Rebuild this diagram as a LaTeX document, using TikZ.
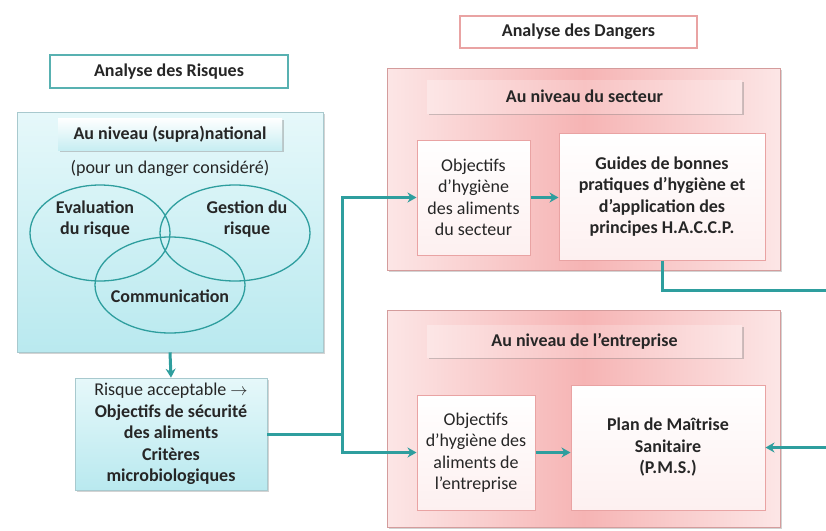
\documentclass[tikz,border=0pt]{standalone}
\usepackage{fontspec}
\setmainfont{Carlito}
\usetikzlibrary{shapes.geometric,shadows,arrows.meta}

\definecolor{sarcelle}{HTML}{2E9E9E}
\definecolor{cyanclair}{HTML}{E6F8FA}
\definecolor{cyanfonce}{HTML}{B9E9EF}
\definecolor{roseclair}{HTML}{FCE6E6}
\definecolor{rosefonce}{HTML}{F6B4B4}
\definecolor{bordrose}{HTML}{E9A3A3}

\newcommand\taille{\fontsize{18}{21.5}\selectfont}

\tikzset{
  titre/.style={draw=#1, line width=1.4pt, fill=white, font=\taille\bfseries},
  grandR/.style={draw=cyanfonce!70!gray, line width=0.6pt, top color=cyanclair, bottom color=cyanfonce,
    drop shadow={shadow xshift=1.5pt, shadow yshift=-2pt, opacity=.35}},
  grandD/.style={draw=bordrose!80!gray, line width=0.6pt, left color=roseclair, right color=roseclair, middle color=rosefonce,
    drop shadow={shadow xshift=1.5pt, shadow yshift=-2pt, opacity=.35}},
  niveauR/.style={top color=white, bottom color=cyanfonce!80, font=\taille\bfseries,
    drop shadow={shadow xshift=1.5pt, shadow yshift=-2pt, opacity=.4}},
  niveauD/.style={left color=roseclair, right color=roseclair, middle color=rosefonce!80, font=\taille\bfseries,
    drop shadow={shadow xshift=1.5pt, shadow yshift=-2pt, opacity=.4}},
  cercle/.style={ellipse, draw=sarcelle, line width=1.3pt},
  gras/.style={font=\taille\bfseries, align=center},
  objbox/.style={draw=bordrose, line width=1pt, top color=white, bottom color=roseclair!60, align=center},
  fleche/.style={->, draw=sarcelle, line width=3pt}
}

\begin{document}
\begin{tikzpicture}[x=1pt, y=-1pt, >={Stealth[length=9pt,width=10pt]}, font=\taille, text=black!85]
    \useasboundingbox (0,0) rectangle (826,530);
    % analyse des risques
    \node[titre=sarcelle!80, minimum width=238, minimum height=33] (titreR) at (169,71.5) {Analyse des Risques};
    \node[grandR, minimum width=306, minimum height=240] (boiteR) at (170,232) {};
    \node[niveauR, minimum width=224, minimum height=32] (supra) at (170,134) {Au niveau (supra)national};
    \node (pour) at (170,168) {(pour un danger considéré)};
    \node[cercle, minimum width=140, minimum height=96] (eval) at (100,233) {};
    \node[cercle, minimum width=150, minimum height=96] (gest) at (235,233) {};
    \node[cercle, minimum width=150, minimum height=96] (comm) at (170,285) {};
    \node[gras] (txteval) at (95,219) {Evaluation\\du risque};
    \node[gras] (txtgest) at (247,219) {Gestion du\\risque};
    \node[gras] (txtcomm) at (170,296) {Communication};
    \node[grandR, minimum width=192, minimum height=112, align=center] (risque) at (171,434)
        {Risque acceptable $\rightarrow$\\\textbf{Objectifs de sécurité}\\\textbf{des aliments}\\\textbf{Critères}\\\textbf{microbiologiques}};
    \draw[fleche] (boiteR.south) -- (risque.north);

    % analyse des dangers
    \node[titre=bordrose, minimum width=237, minimum height=32] (titreD) at (578.5,32) {Analyse des Dangers};
    \node[grandD, minimum width=393, minimum height=202] (boiteS) at (583.5,169) {};
    \node[niveauD, minimum width=315, minimum height=33] (nivS) at (584.5,96.5) {Au niveau du secteur};
    \node[objbox, minimum width=113, minimum height=115] (objS) at (473.5,197.5) {Objectifs\\d'hygiène\\des aliments\\du secteur};
    \node[objbox, gras, minimum width=206, minimum height=127] (guides) at (662,196.5)
        {Guides de bonnes\\pratiques d'hygiène et\\d'application des\\principes H.A.C.C.P.};
    \node[grandD, minimum width=393, minimum height=217] (boiteE) at (583.5,418.5) {};
    \node[niveauD, minimum width=315, minimum height=32] (nivE) at (584.5,341) {Au niveau de l'entreprise};
    \node[objbox, minimum width=118, minimum height=115] (objE) at (476,452.5) {Objectifs\\d'hygiène des\\aliments de\\l'entreprise};
    \node[objbox, gras, minimum width=194, minimum height=125] (pms) at (668,447.5)
        {Plan de Maîtrise\\Sanitaire\\(P.M.S.)};

    % liaisons
    \coordinate (jonction) at (342,434);
    \coordinate (bordD) at (840,290);
    \draw[draw=sarcelle, line width=3pt] (risque.east) -- (jonction);
    \draw[fleche] (jonction) |- (objS.west);
    \draw[fleche] (jonction) |- (objE.west);
    \draw[fleche] (objS.east) -- (objS.east -| guides.west);
    \draw[fleche] (objE.east) -- (objE.east -| pms.west);
    \draw[fleche] (guides.south) |- (bordD) |- (pms.east);
\end{tikzpicture}
\end{document}
